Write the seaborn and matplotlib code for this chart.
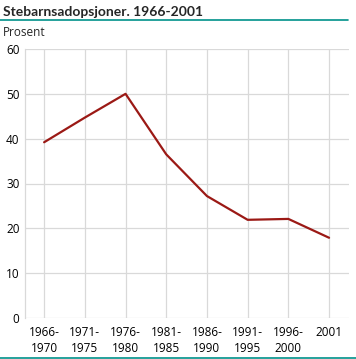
import matplotlib
matplotlib.use("Agg")
import matplotlib.pyplot as plt
import seaborn as sns
import pandas as pd
from matplotlib.lines import Line2D

categories = ["1966-\n1970", "1971-\n1975", "1976-\n1980", "1981-\n1985",
              "1986-\n1990", "1991-\n1995", "1996-\n2000", "2001"]
values = [39.2, 44.7, 50.0, 36.5, 27.2, 21.9, 22.1, 17.9]
yticks = [0, 10, 20, 30, 40, 50, 60]

sns.set_theme(style="white")
plt.rcParams['font.family'] = ['Open Sans', 'DejaVu Sans']

df = pd.DataFrame({"cat": categories, "val": values, "pos": range(len(categories))})

W, H = 356, 359
fig = plt.figure(figsize=(W / 100, H / 100), dpi=100)
ax = fig.add_axes([25 / W, 1 - 318 / H, (349 - 25) / W, (318 - 49) / H])

sns.lineplot(data=df, x="pos", y="val", ax=ax, color="#9b1915", linewidth=1.6)

ax.set_xlim(-0.47, 7.49)
ax.set_ylim(0, 60)
ax.set_xticks(range(len(categories)))
ax.set_xticklabels(categories, fontsize=8.5, linespacing=1.25)
ax.set_yticks(yticks)
ax.set_yticklabels([str(v) for v in yticks], fontsize=8.5)
ax.set_xlabel("")
ax.set_ylabel("")
ax.grid(True, color="#d9d9d9", linewidth=0.9)
ax.set_axisbelow(True)
for s in ["top", "right", "bottom"]:
    ax.spines[s].set_visible(False)
ax.spines["left"].set_color("#d9d9d9")
ax.spines["left"].set_linewidth(0.9)
ax.tick_params(axis="both", length=0, pad=4, colors="#000000")
ax.tick_params(axis="x", pad=6)

fig.text(3 / W, 1 - 11.5 / H, "Stebarnsadopsjoner. 1966-2001", fontsize=10,
         fontweight="bold", va="center", ha="left", family=["Lato", "DejaVu Sans"])
fig.text(3 / W, 1 - 33 / H, "Prosent", fontsize=8.5, va="center", ha="left")

fig.add_artist(Line2D([0, 348 / W], [1 - 19.5 / H, 1 - 19.5 / H], color="#00918a",
                      linewidth=1.2, transform=fig.transFigure))
fig.add_artist(Line2D([0, 1], [1 - 357.5 / H, 1 - 357.5 / H], color="#00918a",
                      linewidth=1.2, transform=fig.transFigure))

fig.savefig("out.png", dpi=100)
